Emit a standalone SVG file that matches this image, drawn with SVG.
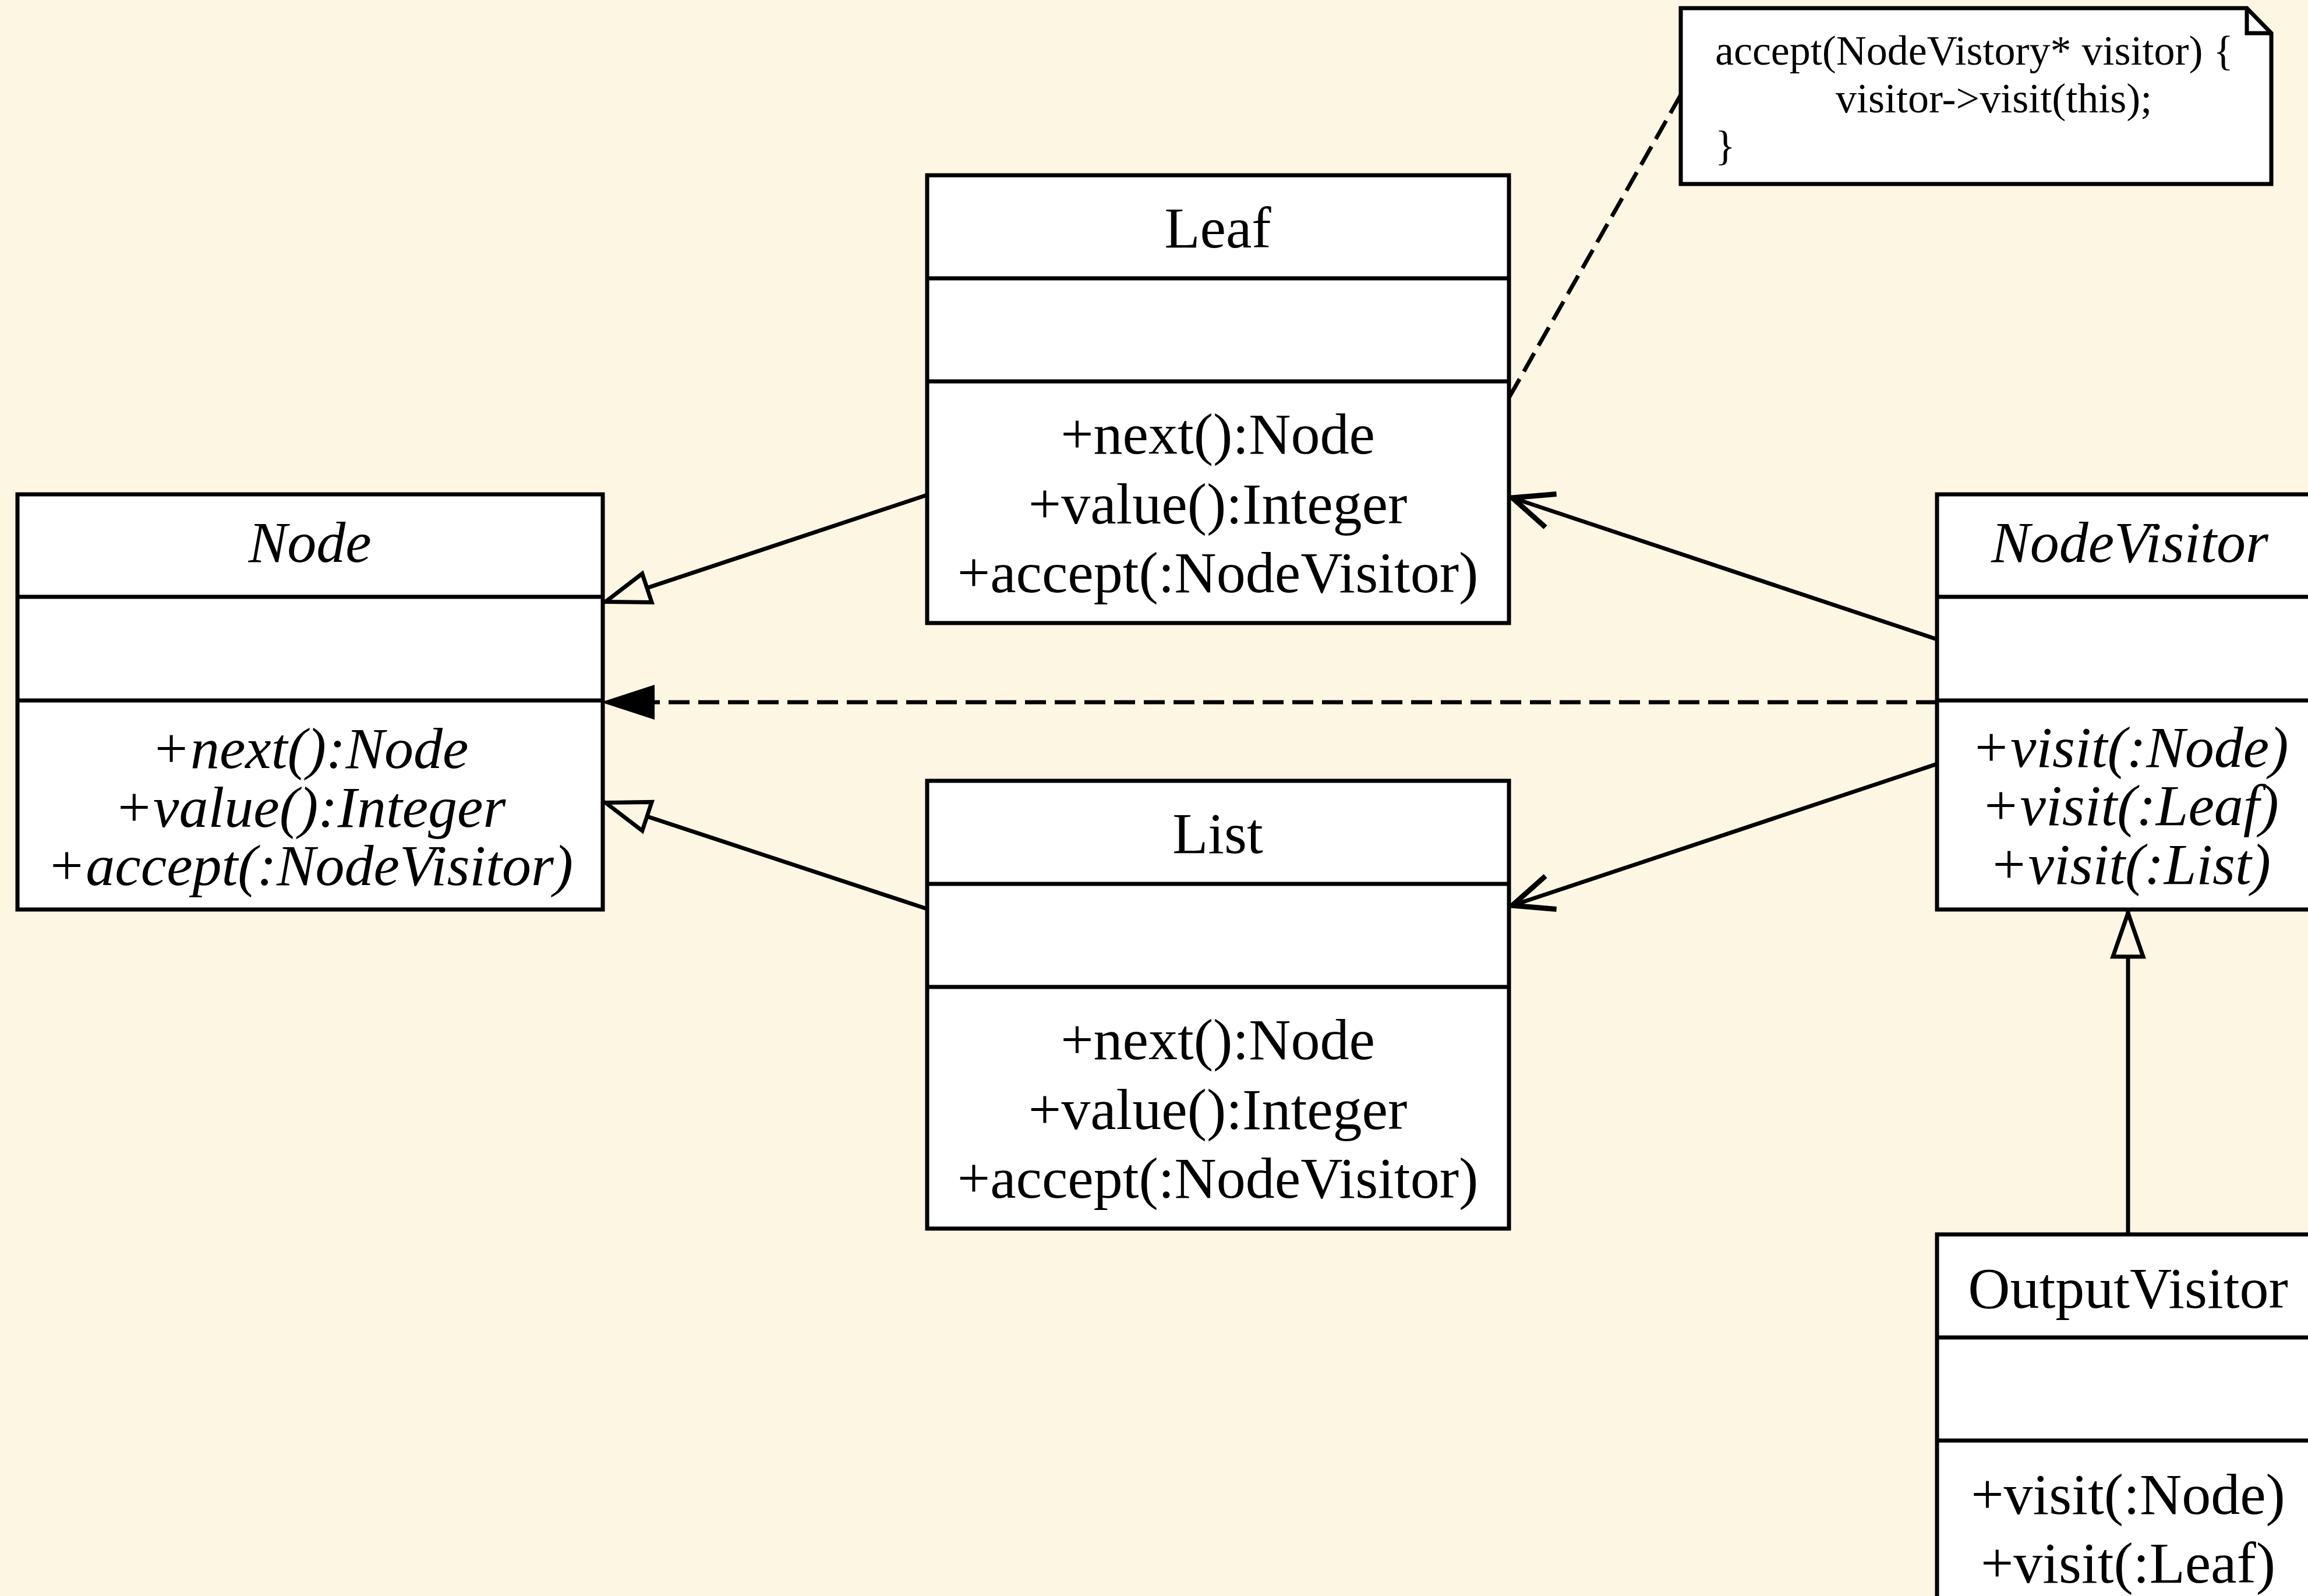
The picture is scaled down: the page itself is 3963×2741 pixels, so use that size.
<svg xmlns="http://www.w3.org/2000/svg" width="3963" height="2741" viewBox="0 0 3963 2741">
  <defs>
    <style>
      .box { fill: #ffffff; stroke: #000000; stroke-width: 7; }
      .div { stroke: #000000; stroke-width: 7; fill: none; }
      .t { font-family: "Liberation Serif", "Times New Roman", serif; font-size: 100px; fill: #000000; text-anchor: middle; }
      .i { font-style: italic; }
      .note-t { font-family: "Liberation Serif", "Times New Roman", serif; font-size: 72px; fill: #000000; }
      .edge { fill: none; stroke: #000000; stroke-width: 7; }
      .dash { stroke-dasharray: 36 15; }
    </style>
    <!-- hollow generalization triangle -->
    <marker id="inherit" markerUnits="userSpaceOnUse" orient="auto" refX="0" refY="0" markerWidth="10" markerHeight="10" overflow="visible">
      <path d="M -5,0 L -80,-26 L -80,26 Z" fill="#fdf6e3" stroke="#000000" stroke-width="7"/>
    </marker>
    <!-- open association arrow -->
    <marker id="open" markerUnits="userSpaceOnUse" orient="auto" refX="0" refY="0" markerWidth="10" markerHeight="10" overflow="visible">
      <path d="M -76,-30 L -6,0 L -76,30" fill="none" stroke="#000000" stroke-width="9" stroke-linejoin="miter"/>
    </marker>
    <!-- filled dependency arrow -->
    <marker id="filled" markerUnits="userSpaceOnUse" orient="auto" refX="0" refY="0" markerWidth="10" markerHeight="10" overflow="visible">
      <path d="M 3,0 L -89,-30 L -89,30 Z" fill="#000000"/>
    </marker>
  </defs>

  <rect x="0" y="0" width="3963" height="2741" fill="#fdf6e3"/>

  <!-- connectors -->
  <g id="connectors">
    <line class="edge" x1="1592" y1="850" x2="1035" y2="1035" marker-end="url(#inherit)"/>
    <line class="edge" x1="1592" y1="1561" x2="1035" y2="1377" marker-end="url(#inherit)"/>
    <line class="edge dash" x1="3326" y1="1206" x2="1035" y2="1206" marker-end="url(#filled)"/>
    <line class="edge" x1="3326" y1="1098" x2="2591" y2="853" marker-end="url(#open)"/>
    <line class="edge" x1="3326" y1="1312" x2="2591" y2="1557" marker-end="url(#open)"/>
    <line class="edge" x1="3654" y1="2120" x2="3654" y2="1563" marker-end="url(#inherit)"/>
    <line class="edge dash" x1="2886" y1="163" x2="2591" y2="683"/>
  </g>

  <!-- abstract Node -->
  <g id="node-Node">
    <rect class="box" x="30" y="849" width="1005" height="713"/>
    <line class="div" x1="30" y1="1025" x2="1035" y2="1025"/>
    <line class="div" x1="30" y1="1203" x2="1035" y2="1203"/>
    <text class="t i" x="532" y="965">Node</text>
    <text class="t i" x="532" y="1319">+next():Node</text>
    <text class="t i" x="532" y="1420">+value():Integer</text>
    <text class="t i" x="532" y="1520">+accept(:NodeVisitor)</text>
  </g>

  <!-- Leaf -->
  <g id="node-Leaf">
    <rect class="box" x="1592" y="301" width="999" height="769"/>
    <line class="div" x1="1592" y1="478" x2="2591" y2="478"/>
    <line class="div" x1="1592" y1="655" x2="2591" y2="655"/>
    <text class="t" x="2091" y="425">Leaf</text>
    <text class="t" x="2091" y="779">+next():Node</text>
    <text class="t" x="2091" y="899">+value():Integer</text>
    <text class="t" x="2091" y="1017">+accept(:NodeVisitor)</text>
  </g>

  <!-- List -->
  <g id="node-List">
    <rect class="box" x="1592" y="1341" width="999" height="769"/>
    <line class="div" x1="1592" y1="1518" x2="2591" y2="1518"/>
    <line class="div" x1="1592" y1="1695" x2="2591" y2="1695"/>
    <text class="t" x="2091" y="1465">List</text>
    <text class="t" x="2091" y="1819">+next():Node</text>
    <text class="t" x="2091" y="1939">+value():Integer</text>
    <text class="t" x="2091" y="2057">+accept(:NodeVisitor)</text>
  </g>

  <!-- abstract NodeVisitor -->
  <g id="node-NodeVisitor">
    <rect class="box" x="3326" y="849" width="658" height="713"/>
    <line class="div" x1="3326" y1="1025" x2="3984" y2="1025"/>
    <line class="div" x1="3326" y1="1203" x2="3984" y2="1203"/>
    <text class="t i" x="3657" y="965">NodeVisitor</text>
    <text class="t i" x="3657" y="1317">+visit(:Node)</text>
    <text class="t i" x="3657" y="1417">+visit(:Leaf)</text>
    <text class="t i" x="3657" y="1518">+visit(:List)</text>
  </g>

  <!-- OutputVisitor -->
  <g id="node-OutputVisitor">
    <rect class="box" x="3326" y="2120" width="658" height="760"/>
    <line class="div" x1="3326" y1="2297" x2="3984" y2="2297"/>
    <line class="div" x1="3326" y1="2474" x2="3984" y2="2474"/>
    <text class="t" x="3654" y="2246">OutputVisitor</text>
    <text class="t" x="3654" y="2600">+visit(:Node)</text>
    <text class="t" x="3654" y="2718">+visit(:Leaf)</text>
  </g>

  <!-- note attached to Leaf -->
  <g id="note">
    <path class="box" d="M 2886,14 L 3858,14 L 3900,57 L 3900,316 L 2886,316 Z"/>
    <path class="div" d="M 3858,14 L 3858,57 L 3900,57"/>
    <text class="note-t" x="2945" y="111">accept(NodeVistory* visitor) {</text>
    <text class="note-t" x="3152" y="193">visitor-&gt;visit(this);</text>
    <text class="note-t" x="2945" y="274">}</text>
  </g>
</svg>
